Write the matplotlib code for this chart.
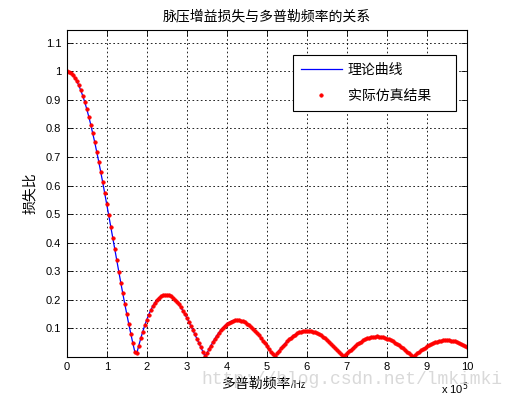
import matplotlib
matplotlib.use("Agg")
import matplotlib.pyplot as plt
import numpy as np

plt.rcParams['font.family'] = ['Liberation Sans', 'Noto Sans CJK SC', 'DejaVu Sans']
plt.rcParams['axes.unicode_minus'] = False

# Doppler frequency, units of 1e5 Hz (sampled every 0.05)
fd = np.linspace(0, 10, 201)

# gain loss ratio
loss = [
    1.0000, 0.9986, 0.9945, 0.9877, 0.9782, 0.9660, 0.9513, 0.9340, 0.9144, 0.8924,
    0.8682, 0.8418, 0.8136, 0.7834, 0.7516, 0.7183, 0.6836, 0.6476, 0.6106, 0.5728,
    0.5342, 0.4952, 0.4557, 0.4161, 0.3766, 0.3372, 0.2982, 0.2597, 0.2219, 0.1849,
    0.1489, 0.1141, 0.0805, 0.0483, 0.0177, 0.0114, 0.0388, 0.0644, 0.0881, 0.1098,
    0.1297, 0.1475, 0.1632, 0.1770, 0.1886, 0.1983, 0.2059, 0.2115, 0.2152, 0.2170,
    0.2170, 0.2152, 0.2118, 0.2068, 0.2003, 0.1924, 0.1832, 0.1729, 0.1615, 0.1492,
    0.1361, 0.1224, 0.1080, 0.0933, 0.0783, 0.0631, 0.0478, 0.0326, 0.0176, 0.0029,
    0.0114, 0.0252, 0.0385, 0.0510, 0.0628, 0.0738, 0.0839, 0.0930, 0.1012, 0.1083,
    0.1144, 0.1194, 0.1233, 0.1261, 0.1278, 0.1284, 0.1279, 0.1265, 0.1240, 0.1206,
    0.1163, 0.1111, 0.1051, 0.0984, 0.0910, 0.0831, 0.0746, 0.0657, 0.0565, 0.0470,
    0.0373, 0.0274, 0.0176, 0.0078, 0.0019, 0.0114, 0.0206, 0.0295, 0.0380, 0.0460,
    0.0534, 0.0603, 0.0666, 0.0723, 0.0772, 0.0815, 0.0849, 0.0877, 0.0897, 0.0909,
    0.0913, 0.0910, 0.0900, 0.0882, 0.0858, 0.0826, 0.0789, 0.0746, 0.0697, 0.0643,
    0.0585, 0.0523, 0.0458, 0.0390, 0.0320, 0.0248, 0.0175, 0.0102, 0.0029, 0.0043,
    0.0114, 0.0183, 0.0249, 0.0312, 0.0372, 0.0428, 0.0480, 0.0527, 0.0570, 0.0607,
    0.0638, 0.0664, 0.0684, 0.0698, 0.0707, 0.0709, 0.0706, 0.0697, 0.0682, 0.0662,
    0.0637, 0.0606, 0.0572, 0.0533, 0.0490, 0.0443, 0.0394, 0.0342, 0.0288, 0.0232,
    0.0174, 0.0116, 0.0058, 0.0000, 0.0057, 0.0114, 0.0168, 0.0221, 0.0271, 0.0319,
    0.0363, 0.0404, 0.0441, 0.0474, 0.0503, 0.0528, 0.0548, 0.0563, 0.0573, 0.0579,
    0.0580, 0.0576, 0.0567, 0.0554, 0.0536, 0.0514, 0.0488, 0.0459, 0.0426, 0.0390,
    0.0351,
]
sim = loss  # simulated points lie on the theory curve

xticks = list(range(0, 11))
yticks = [0.1, 0.2, 0.3, 0.4, 0.5, 0.6, 0.7, 0.8, 0.9, 1.0, 1.1]
ytick_labels = ['0.1', '0.2', '0.3', '0.4', '0.5', '0.6', '0.7', '0.8', '0.9', '1', '1.1']

fig = plt.figure(figsize=(5.16, 3.98), dpi=100)
ax = fig.add_axes([0.1293, 0.1038, 0.7758, 0.8208])

ax.plot(fd, loss, color='#0000ff', linewidth=0.9, label='理论曲线')
ax.plot(fd, sim, linestyle='none', marker='.', markersize=5,
        color='red', markeredgewidth=0.5, label='实际仿真结果')

ax.set_xlim(0, 10)
ax.set_ylim(0, 1.145)
ax.set_xticks(xticks)
ax.set_xticklabels([str(t) for t in xticks])
ax.set_yticks(yticks)
ax.set_yticklabels(ytick_labels)
ax.tick_params(direction='in', top=True, right=True, length=4, width=0.6,
               labelsize=8, pad=4)
ax.grid(True, color='k', linestyle=(0, (2, 3)), linewidth=0.6)
for s in ax.spines.values():
    s.set_linewidth(0.8)

ax.set_title('脉压增益损失与多普勒频率的关系', fontsize=10, pad=7)
ax.set_ylabel('损失比', fontsize=10, labelpad=6)
t = ax.text(0.388, -0.062, '多普勒频率', transform=ax.transAxes, fontsize=10,
            ha='left', va='top')
ax.annotate('/Hz', xy=(1, 0.08), xycoords=t, fontsize=7, ha='left', va='bottom')
fig.text(0.907, 0.002, r'x 10$^{5}$', fontsize=8, ha='right', va='bottom')

leg = ax.legend(loc='upper left', bbox_to_anchor=(0.565, 0.749, 0.4075, 0.1745),
                mode='expand', borderaxespad=0, fontsize=10, handlelength=3,
                handletextpad=0.4, labelspacing=0.9, borderpad=0.55,
                fancybox=False, edgecolor='k', framealpha=1)
leg.get_frame().set_linewidth(0.8)

# blog watermark
fig.text(0.39, 0.035, 'http://blog.csdn.net/lmkimki', fontsize=13,
         family='Liberation Mono', color='#d0d0d0', alpha=0.8, zorder=10)

fig.savefig('out.png', dpi=100)
